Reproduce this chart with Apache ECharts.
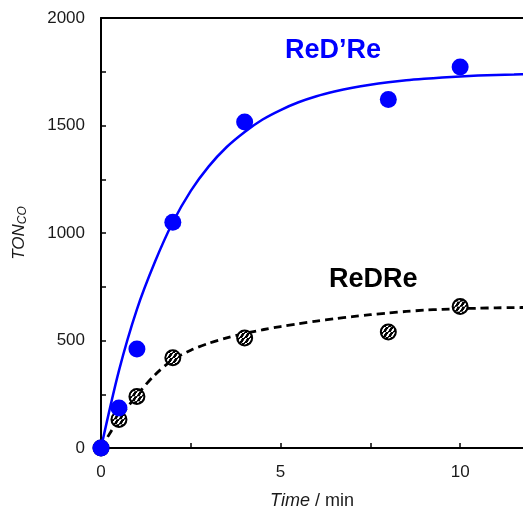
<!DOCTYPE html>
<html>
<head>
<meta charset="utf-8">
<script src="https://cdn.jsdelivr.net/npm/echarts@6/dist/echarts.min.js"></script>
<style>
  html, body { margin: 0; padding: 0; background: #fff; }
  #chart { width: 523px; height: 508px; }
</style>
</head>
<body>
<div id="chart"></div>
<script>
// measured points (Time / min, TON_CO)
const timeRedPrime = [0, 0.5, 1, 2, 4, 8, 10];
const tonRedPrime = [0, 186, 460, 1050, 1516, 1621, 1772];
const timeRedre = [0, 0.5, 1, 2, 4, 8, 10];
const tonRedre = [0, 133, 240, 420, 512, 540, 658];

// fitted curves, every 0.5 min
const fitTime = [0, 0.5, 1, 1.5, 2, 2.5, 3, 3.5, 4, 4.5, 5, 5.5, 6, 6.5, 7, 7.5, 8, 8.5, 9, 9.5, 10, 10.5, 11, 11.5, 12];
const fitRedPrime = [0, 360, 645, 865, 1050, 1196, 1310, 1400, 1470, 1528, 1572, 1608, 1636, 1658, 1676, 1690, 1701, 1710, 1717, 1723, 1728, 1732, 1735, 1737, 1739];
const fitRedre = [0, 135, 245, 340, 410, 455, 487, 512, 533, 550, 565, 578, 590, 601, 611, 620, 628, 635, 641, 645, 648, 650, 652, 653, 654];

// ticks and labels
const xTicks = [0, 2.5, 5, 7.5, 10];
const xLabels = [0, 5, 10];
const yTicks = [0, 250, 500, 750, 1000, 1250, 1500, 1750, 2000];
const yLabels = [0, 500, 1000, 1500, 2000];

const pair = (xs, ys) => xs.map((x, i) => [x, ys[i]]);

const hatchSize = 15;

// black disc with white diagonal stripes; the symbol path is scaled by
// size/2, so the pattern is scaled back down to keep ~5px stripes
function hatch() {
    const c = document.createElement('canvas');
    c.width = 16; c.height = 16;
    const g = c.getContext('2d');
    g.fillStyle = '#000';
    g.fillRect(0, 0, 16, 16);
    g.strokeStyle = '#fff';
    g.lineWidth = 5.5;
    g.beginPath();
    for (let k = -16; k <= 32; k += 16) {
        g.moveTo(k - 16, 32); g.lineTo(k + 16, -16);
    }
    g.stroke();
    const s = 5 / 16 / (hatchSize / 2);
    return { image: c, repeat: 'repeat', scaleX: s, scaleY: s };
}

const font = '"Liberation Sans", Arial, sans-serif';
const chart = echarts.init(document.getElementById('chart'));

chart.setOption({
    animation: false,
    grid: { left: 101, top: 18, right: 0, bottom: 60, outerBoundsMode: 'none', containLabel: false },
    xAxis: [
        {
            type: 'value', min: 0, max: 11.75,
            name: '{i|Time} / min', nameLocation: 'middle', nameGap: 44,
            nameTextStyle: {
                fontFamily: font, fontSize: 18, color: '#1a1a1a',
                rich: { i: { fontFamily: font, fontSize: 18, fontStyle: 'italic', color: '#1a1a1a' } }
            },
            axisLine: { lineStyle: { color: '#000', width: 2 } },
            axisTick: { inside: true, length: 5, customValues: xTicks, lineStyle: { color: '#000', width: 1.5 } },
            axisLabel: { fontFamily: font, fontSize: 17, color: '#1a1a1a', margin: 16, customValues: xLabels, formatter: v => String(v) },
            splitLine: { show: false }
        },
        {
            type: 'value', min: 0, max: 11.75, position: 'top',
            axisLine: { show: true, lineStyle: { color: '#000', width: 2 } },
            axisTick: { show: false }, axisLabel: { show: false }, splitLine: { show: false }
        }
    ],
    yAxis: {
        type: 'value', min: 0, max: 2000,
        name: '{i|TON}{s|CO}', nameLocation: 'middle', nameGap: 72,
        nameTextStyle: {
            fontFamily: font, color: '#1a1a1a',
            rich: {
                i: { fontFamily: font, fontSize: 17, fontStyle: 'italic', color: '#1a1a1a' },
                s: { fontFamily: font, fontSize: 12, fontStyle: 'italic', color: '#1a1a1a', padding: [7, 0, 0, 0] }
            }
        },
        axisLine: { show: true, lineStyle: { color: '#000', width: 2 } },
        axisTick: { inside: true, length: 5, customValues: yTicks, lineStyle: { color: '#000', width: 1.5 } },
        axisLabel: { fontFamily: font, fontSize: 17, color: '#1a1a1a', margin: 16, customValues: yLabels, formatter: v => String(v) },
        splitLine: { show: false }
    },
    graphic: [
        { type: 'text', left: 285, top: 37, style: { text: 'ReD\u2019Re', fill: '#0000ff', font: 'bold 27px ' + font } },
        { type: 'text', left: 329, top: 266, style: { text: 'ReDRe', fill: '#000', font: 'bold 27px ' + font } }
    ],
    series: [
        {
            type: 'line', data: pair(fitTime, fitRedre), smooth: 0.3, symbol: 'none',
            lineStyle: { color: '#000', width: 2.8, type: [8, 5] }, z: 2
        },
        {
            type: 'scatter', data: pair(timeRedre, tonRedre), symbolSize: hatchSize,
            itemStyle: { color: hatch(), borderColor: '#000', borderWidth: 2, opacity: 1 }, z: 3
        },
        {
            type: 'line', data: pair(fitTime, fitRedPrime), smooth: 0.3, symbol: 'none',
            lineStyle: { color: '#0000ff', width: 2.5 }, z: 4
        },
        {
            type: 'scatter', data: pair(timeRedPrime, tonRedPrime), symbolSize: 17,
            itemStyle: { color: '#0000ff', opacity: 1 }, z: 5
        }
    ]
});
</script>
</body>
</html>
